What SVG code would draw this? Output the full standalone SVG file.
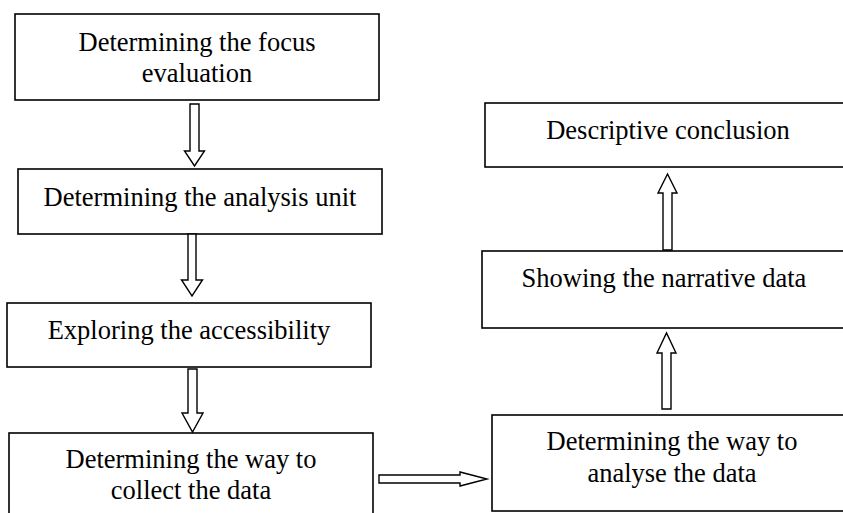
<svg xmlns="http://www.w3.org/2000/svg" width="843" height="513" viewBox="0 0 843 513">
<style>
.box{fill:#fff;stroke:#000;stroke-width:1.6}
.arr{fill:#fff;stroke:#000;stroke-width:1.4;stroke-linejoin:miter}
text{font-family:"Liberation Serif","Times New Roman",serif;font-size:26.5px;fill:#000;text-anchor:middle}
</style>
<rect width="843" height="513" fill="#fff"/>
<g id="n1"><rect class="box" x="15" y="14" width="364" height="86"/><text x="197" y="51">Determining the focus</text><text x="197" y="82">evaluation</text></g>
<g id="n2"><rect class="box" x="18" y="169" width="364" height="65"/><text x="200" y="206">Determining the analysis unit</text></g>
<g id="n3"><rect class="box" x="7" y="303" width="364" height="64"/><text x="189" y="339">Exploring the accessibility</text></g>
<g id="n4"><rect class="box" x="9" y="433" width="364" height="100"/><text x="191" y="468">Determining the way to</text><text x="191" y="499">collect the data</text></g>
<g id="n5"><rect class="box" x="492" y="415" width="361" height="96"/><text x="672" y="450">Determining the way to</text><text x="672" y="482">analyse the data</text></g>
<g id="n6"><rect class="box" x="482" y="251" width="364" height="77"/><text x="664" y="287">Showing the narrative data</text></g>
<g id="n7"><rect class="box" x="485" y="103" width="366" height="64"/><text x="668" y="139">Descriptive conclusion</text></g>
<g id="connectors">
<polygon class="arr" points="190,104 199,104 199,151 204.5,151 194.5,166 184.5,151 190,151"/>
<polygon class="arr" points="188,234 196,234 196,280 202.5,280 192,296 181.5,280 188,280"/>
<polygon class="arr" points="188,369 197,369 197,413 203,413 192.5,432 182,413 188,413"/>
<polygon class="arr" points="379,475 460,475 460,472 487,479 460,486 460,483 379,483"/>
<polygon class="arr" points="662,409 671,409 671,353 676,353 666.5,333 657,353 662,353"/>
<polygon class="arr" points="663,250 672,250 672,193 677,193 667.5,174 658,193 663,193"/>
</g>
</svg>
